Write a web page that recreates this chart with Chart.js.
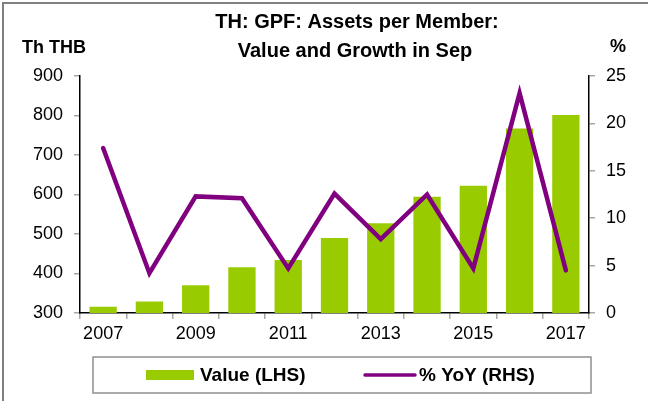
<!DOCTYPE html>
<html>
<head>
<meta charset="utf-8">
<script src="https://cdn.jsdelivr.net/npm/chart.js@4"></script>
<style>
  html, body { margin: 0; padding: 0; background: #fff; }
  #wrap { width: 648px; height: 401px; position: relative; }
</style>
</head>
<body>
<div id="wrap"><canvas id="assetChart"></canvas></div>
<script>
const years = ["2007", "2008", "2009", "2010", "2011", "2012", "2013", "2014", "2015", "2016", "2017"];
const valueLHS = [316, 329, 370, 416, 434, 490, 527, 594, 622, 767, 801];
const yoyRHS = [17.4, 4.2, 12.3, 12.1, 4.7, 12.6, 7.8, 12.5, 4.7, 23.2, 4.5];
const leftTicks = [300, 400, 500, 600, 700, 800, 900];
const rightTicks = [0, 5, 10, 15, 20, 25];

const FONT = "'Liberation Sans', Arial, sans-serif";
const green = "#99cc00";
const purple = "#800080";

// frame, headings and the boxed legend
const decorations = {
  id: "decorations",
  afterDraw(chart) {
    const ctx = chart.ctx;
    const area = chart.chartArea;
    ctx.save();

    ctx.strokeStyle = "#808080";
    ctx.lineWidth = 2;
    ctx.beginPath();
    ctx.moveTo(3, chart.height);
    ctx.lineTo(3, 3);
    ctx.lineTo(chart.width, 3);
    ctx.stroke();

    ctx.fillStyle = "#000";
    ctx.textBaseline = "middle";
    ctx.textAlign = "center";
    ctx.font = "bold 20px " + FONT;
    ctx.fillText("TH: GPF: Assets per Member:", 357, 22);
    ctx.fillText("Value and Growth in Sep", 355, 51);

    ctx.font = "bold 18px " + FONT;
    ctx.textAlign = "left";
    ctx.fillText("Th THB", 22, 48);
    ctx.textAlign = "center";
    ctx.fillText("%", 618, 47);

    // legend box
    const boxTop = 357, boxBottom = 393;
    ctx.strokeStyle = "#909090";
    ctx.lineWidth = 1.5;
    ctx.strokeRect(area.left + 13, boxTop, area.right - area.left - 11, boxBottom - boxTop);

    const midY = (boxTop + boxBottom) / 2;
    const barDs = chart.data.datasets.find((d) => d.type === "bar");
    const lineDs = chart.data.datasets.find((d) => d.type === "line");
    ctx.font = "bold 19px " + FONT;
    ctx.textAlign = "left";

    // bar item
    ctx.fillStyle = barDs.backgroundColor;
    ctx.fillRect(146, midY - 5, 48, 10);
    ctx.fillStyle = "#000";
    ctx.fillText(barDs.label, 200, midY + 1);

    // line item
    ctx.strokeStyle = lineDs.borderColor;
    ctx.lineWidth = 3.5;
    ctx.lineCap = "round";
    ctx.beginPath();
    ctx.moveTo(365, midY);
    ctx.lineTo(415, midY);
    ctx.stroke();
    ctx.fillText(lineDs.label, 419, midY + 1);

    ctx.restore();
  },
};

const axisTicks = {
  display: true,
  drawOnChartArea: false,
  drawTicks: true,
  tickLength: 6,
  color: "#a6a6a6",
  lineWidth: 1.5,
};

window.onload = function () {
  const ctx = document.getElementById("assetChart").getContext("2d");
  new Chart(ctx, {
    data: {
      labels: years,
      datasets: [
        {
          type: "line",
          label: "% YoY (RHS)",
          data: yoyRHS,
          yAxisID: "y1",
          borderColor: purple,
          backgroundColor: purple,
          borderWidth: 4.5,
          pointRadius: 0,
          tension: 0,
          borderCapStyle: "round",
          order: 0,
        },
        {
          type: "bar",
          label: "Value (LHS)",
          data: valueLHS,
          yAxisID: "y",
          backgroundColor: green,
          borderWidth: 0,
          barPercentage: 1,
          categoryPercentage: 0.59,
          order: 1,
        },
      ],
    },
    options: {
      responsive: true,
      maintainAspectRatio: false,
      animation: false,
      layout: { padding: { top: 76, left: 0, right: 0, bottom: 52 } },
      plugins: {
        legend: { display: false },
        title: { display: false },
        tooltip: { enabled: false },
      },
      scales: {
        x: {
          offset: true,
          grid: { ...axisTicks, offset: true },
          border: { display: true, color: "#000", width: 1.5 },
          ticks: {
            autoSkip: false,
            maxRotation: 0,
            color: "#000",
            font: { family: FONT, size: 18 },
            padding: 4,
            callback: (v, i) => (i % 2 === 0 ? years[i] : ""),
          },
          afterFit: (s) => { s.height = 36; },
        },
        y: {
          position: "left",
          min: leftTicks[0],
          max: leftTicks[leftTicks.length - 1],
          afterBuildTicks: (s) => { s.ticks = leftTicks.map((v) => ({ value: v })); },
          grid: axisTicks,
          border: { display: true, color: "#000", width: 1.5 },
          ticks: { color: "#000", font: { family: FONT, size: 18 }, padding: 11 },
          afterFit: (s) => { s.width = 80; },
        },
        y1: {
          position: "right",
          min: rightTicks[0],
          max: rightTicks[rightTicks.length - 1],
          afterBuildTicks: (s) => { s.ticks = rightTicks.map((v) => ({ value: v })); },
          grid: axisTicks,
          border: { display: true, color: "#000", width: 1.5 },
          ticks: { color: "#000", font: { family: FONT, size: 18 }, padding: 11 },
          afterFit: (s) => { s.width = 59; },
        },
      },
    },
    plugins: [decorations],
  });
};
</script>
</body>
</html>
